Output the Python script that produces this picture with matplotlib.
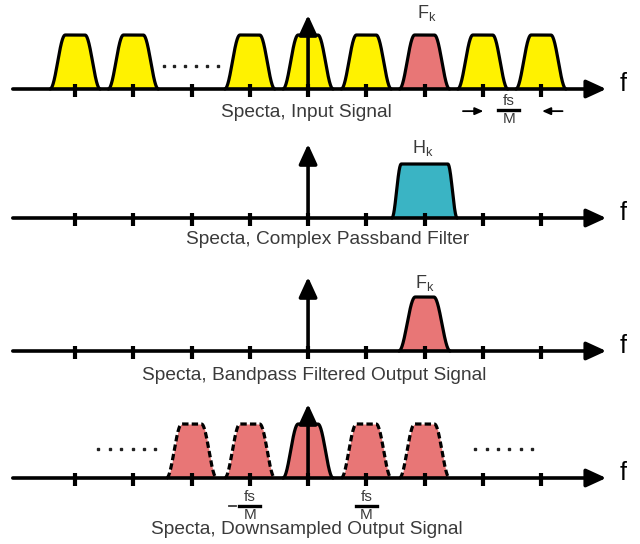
import numpy as np
import matplotlib.pyplot as plt

plt.rcParams['font.family'] = ['Liberation Sans', 'DejaVu Sans']

# pulse centres in units of fs/M, one list per panel
input_centers = [-4, -3, -1, 0, 1, 2, 3, 4]
input_colors = ['yellow', 'yellow', 'yellow', 'yellow', 'yellow', 'red', 'yellow', 'yellow']
filter_center = 2
filtered_center = 2
down_centers = [-2, -1, 0, 1, 2]
down_dashed = [True, True, False, True, True]
tick_pos = [-4, -3, -2, -1, 0, 1, 2, 3, 4]
captions = ['Specta, Input Signal', 'Specta, Complex Passband Filter',
            'Specta, Bandpass Filtered Output Signal', 'Specta, Downsampled Output Signal']

YELLOW = '#FFF200'
RED = '#E87676'
TEAL = '#3AB4C4'
TXT = '#3a3a3a'
LW = 2.3
CAP = 13.8

px = 54.0  # pixels per unit of height
baselines = [(544 - 89) / px, (544 - 218) / px, (544 - 351) / px, (544 - 478) / px]


def pulse(ax, c, y0, color, top=0.17, base=0.43, ls='-'):
    x = np.linspace(-base, base, 300)
    a = np.abs(x)
    u = np.clip((a - top) / (base - top), 0, 1)
    y = 0.5 * (1 + np.cos(np.pi * u))
    ax.fill_between(c + x, y0, y0 + y, color=color, lw=0, zorder=2)
    if ls == '-':
        ax.plot(c + x, y0 + y, color='k', lw=LW, zorder=3, solid_capstyle='round')
    else:
        ax.plot(c + x, y0 + y, color='k', lw=LW, zorder=3, linestyle=(0, (2, 1)))


def axis(ax, y0):
    ax.annotate('', xy=(5.12, y0), xytext=(-5.07, y0),
                arrowprops=dict(arrowstyle='-|>,head_length=1.2,head_width=0.55',
                                lw=2.6, color='k', shrinkA=0, shrinkB=0), zorder=5)
    for t in tick_pos:
        ax.plot([t, t], [y0 + 5 / px, y0 - 8 / px], color='k', lw=3.0, zorder=5,
                solid_capstyle='butt')
    ax.text(5.41, y0 + 0.1, 'f', fontsize=18, color='k', ha='center', va='center')


def vert(ax, y0):
    ax.annotate('', xy=(0, y0 + 1.37), xytext=(0, y0),
                arrowprops=dict(arrowstyle='-|>,head_length=1.2,head_width=0.55',
                                lw=2.6, color='k', shrinkA=0, shrinkB=0), zorder=6)


def frac(ax, x, y):
    ax.text(x, y - 0.23, 'fs', fontsize=11, color=TXT, ha='center', va='center')
    ax.plot([x - 0.18, x + 0.18], [y - 0.39, y - 0.39], color='k', lw=2.4, zorder=5)
    ax.text(x, y - 0.56, 'M', fontsize=11, color=TXT, ha='center', va='center')


def dots(ax, x0, x1, y):
    ax.plot(np.linspace(x0, x1, 6), [y] * 6, 's', color='#222222', ms=2.1, zorder=4)


fig = plt.figure(figsize=(6.4, 5.44), dpi=100)
ax = fig.add_axes([0, 0, 1, 1])
ax.set_xlim(-5.29, 5.70)
ax.set_ylim(0, 544 / px)
ax.axis('off')

# panel 1
y0 = baselines[0]
for c, col in zip(input_centers, input_colors):
    pulse(ax, c, y0, YELLOW if col == 'yellow' else RED)
axis(ax, y0)
vert(ax, y0)
dots(ax, -2.48, -1.55, y0 + 0.43)
ax.text(2.04, y0 + 1.4, r'F$_\mathregular{k}$', fontsize=13, color=TXT, ha='center', va='center')
ax.text(-0.03, y0 - 0.44, captions[0], fontsize=CAP, color=TXT, ha='center', va='center')
frac(ax, 3.45, y0)
ax.annotate('', xy=(3.01, y0 - 0.41), xytext=(2.66, y0 - 0.41),
            arrowprops=dict(arrowstyle='-|>,head_length=0.5,head_width=0.22', lw=1.3,
                            color='k', shrinkA=0, shrinkB=0))
ax.annotate('', xy=(4.02, y0 - 0.41), xytext=(4.37, y0 - 0.41),
            arrowprops=dict(arrowstyle='-|>,head_length=0.5,head_width=0.22', lw=1.3,
                            color='k', shrinkA=0, shrinkB=0))

# panel 2
y0 = baselines[1]
pulse(ax, filter_center, y0, TEAL, top=0.40, base=0.56)
axis(ax, y0)
vert(ax, y0)
ax.text(1.97, y0 + 1.3, r'H$_\mathregular{k}$', fontsize=13, color=TXT, ha='center', va='center')
ax.text(0.34, y0 - 0.39, captions[1], fontsize=CAP, color=TXT, ha='center', va='center')

# panel 3
y0 = baselines[2]
pulse(ax, filtered_center, y0, RED, top=0.16, base=0.44)
axis(ax, y0)
vert(ax, y0)
ax.text(2.0, y0 + 1.26, r'F$_\mathregular{k}$', fontsize=13, color=TXT, ha='center', va='center')
ax.text(0.1, y0 - 0.46, captions[2], fontsize=CAP, color=TXT, ha='center', va='center')

# panel 4
y0 = baselines[3]
for c, d in zip(down_centers, down_dashed):
    pulse(ax, c, y0, RED, ls='--' if d else '-')
axis(ax, y0)
vert(ax, y0)
dots(ax, -3.6, -2.62, y0 + 0.54)
dots(ax, 2.87, 3.85, y0 + 0.54)
frac(ax, -1.0, y0 - 0.13)
ax.plot([-1.36, -1.24], [y0 - 0.52, y0 - 0.52], color=TXT, lw=1.3)
frac(ax, 1.0, y0 - 0.13)
ax.text(-0.03, y0 - 0.96, captions[3], fontsize=CAP, color=TXT, ha='center', va='center')

fig.savefig('out.png', dpi=100)
